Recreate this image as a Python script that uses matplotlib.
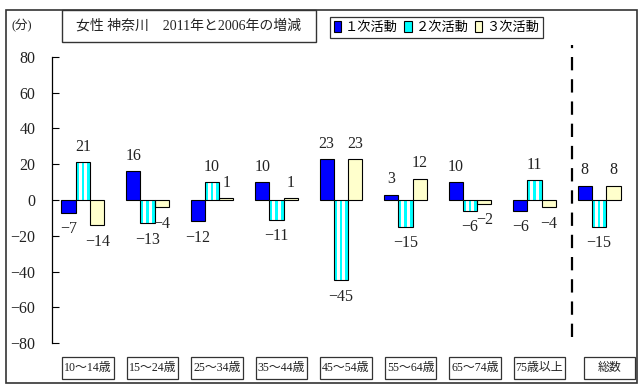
import matplotlib
matplotlib.use('Agg')
import matplotlib.pyplot as plt
from matplotlib.patches import Rectangle, Patch
from matplotlib.transforms import blended_transform_factory
import numpy as np

plt.rcParams['font.family'] = ['Liberation Serif', 'Noto Sans CJK JP']

categories = ['10～14歳', '15～24歳', '25～34歳', '35～44歳', '45～54歳',
              '55～64歳', '65～74歳', '75歳以上', '総数']
primary = [-7, 16, -12, 10, 23, 3, 10, -6, 8]
secondary = [21, -13, 10, -11, -45, -15, -6, 11, -15]
tertiary = [-14, -4, 1, 1, 23, 12, -2, -4, 8]
series_names = ['１次活動', '２次活動', '３次活動']
yticks = [80, 60, 40, 20, 0, -20, -40, -60, -80]
title = '女性 神奈川　2011年と2006年の増減'
unit = '(分)'

W, H = 640, 388
fig = plt.figure(figsize=(6.4, 3.88), dpi=100)
ax = fig.add_axes([52 / W, 1 - 343 / H, 578 / W, 286 / H])

x = np.arange(len(categories))
w = 0.222
c_blue, c_cyan, c_yel = '#0000FF', '#00FFFF', '#FFFFCC'

ax.bar(x - w, primary, w, color=c_blue, edgecolor='black', linewidth=0.8, zorder=2)
ax.bar(x, secondary, w, color=c_cyan, linewidth=0, zorder=2)
for off in (-0.2 * w, 0.2 * w):
    ax.bar(x + off, secondary, 0.2 * w, color='white', linewidth=0, zorder=2)
ax.bar(x, secondary, w, facecolor='none', edgecolor='black', linewidth=0.8, zorder=3)
ax.bar(x + w, tertiary, w, color=c_yel, edgecolor='black', linewidth=0.8, zorder=2)

def fmt(v):
    return str(v).replace('-', '−')

for vals, off in ((primary, -w), (secondary, 0), (tertiary, w)):
    for xi, v in zip(x, vals):
        ax.annotate(fmt(v), (xi + off, v), xytext=(0, 11 if v > 0 else -12),
                    textcoords='offset points', ha='center', va='center',
                    fontsize=11.5, color='#222222')

ax.set_ylim(-80, 80)
ax.set_xlim(-0.48, 8.48)
ax.set_yticks(yticks)
ax.set_yticklabels([fmt(t) for t in yticks])
ax.set_xticks([])
for s in ('top', 'right', 'bottom'):
    ax.spines[s].set_visible(False)
ax.spines['left'].set_linewidth(0.9)
ax.tick_params(axis='y', direction='in', length=5, pad=12, labelsize=11.5,
               labelcolor='#222222')
ax.patch.set_visible(False)

# separator between age groups and total
sep_x = 7.58
ax.axvline(sep_x, ymin=0.021, ymax=1.042, color='black', linewidth=1.6,
           linestyle=(0, (6, 4)), clip_on=False)

# category label boxes
tr = blended_transform_factory(ax.transData, fig.transFigure)
box_w = 0.8
for i, c in enumerate(categories):
    cx = i + (0.16 if i == len(categories) - 1 else 0.078)
    ax.add_patch(Rectangle((cx - box_w / 2, 1 - 379 / H), box_w, 22 / H,
                           transform=tr, fill=False, edgecolor='#333333',
                           linewidth=0.9, clip_on=False))
    ax.text(cx, 1 - 368 / H, c, transform=tr, ha='center', va='center',
            fontsize=8.6, color='#222222', clip_on=False)

# outer border
fig.patches.append(Rectangle((6 / W, 1 - 383 / H), 631 / W, 373 / H,
                             transform=fig.transFigure, fill=False,
                             edgecolor='#333333', linewidth=1.2))
# title box
fig.patches.append(Rectangle((62 / W, 1 - 42 / H), 254 / W, 32 / H,
                             transform=fig.transFigure, fill=False,
                             edgecolor='#333333', linewidth=1.0))
fig.text(189 / W, 1 - 26 / H, title, ha='center', va='center', fontsize=10,
         color='#222222')
fig.text(22 / W, 1 - 26 / H, unit, ha='center', va='center', fontsize=9,
         color='#222222')

handles = [Patch(facecolor=c_blue, edgecolor='black', linewidth=0.8),
           Patch(facecolor=c_cyan, edgecolor='black', linewidth=0.8),
           Patch(facecolor=c_yel, edgecolor='black', linewidth=0.8)]
leg = fig.legend(handles, series_names, loc='center',
                 bbox_to_anchor=(436.5 / W, 1 - 27.5 / H), ncol=3, frameon=True,
                 fancybox=False, edgecolor='black', handlelength=0.55,
                 handleheight=0.9, handletextpad=0.3, columnspacing=0.5,
                 borderpad=0.3, borderaxespad=0, fontsize=9.5)
leg.get_frame().set_linewidth(0.9)

fig.savefig('out.png', dpi=100)
